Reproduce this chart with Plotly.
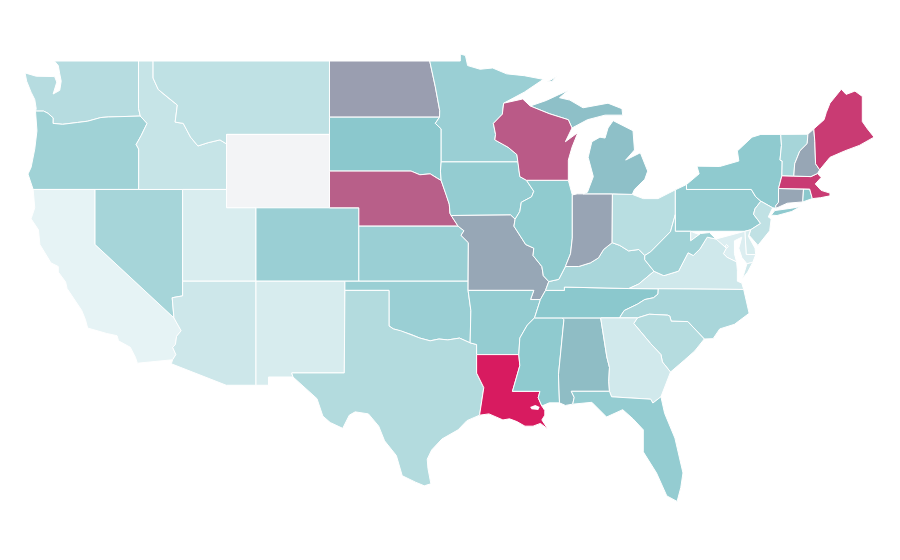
import plotly.graph_objects as go
from plotly.colors import sample_colorscale

# outlines are lon/lat, read off by hand (the geo trace needs topojson from a CDN, no network here)
columbia = [(-124.05,46.27),(-123.5,46.27),(-123.2,46.15),(-122.85,45.9),(-122.86,45.6),(-122.2,45.55),(-121.2,45.65),(-120.5,45.72),(-119.6,45.92),(-119.1,45.95),(-116.92,46.0)]
snake = [(-116.92,46.0),(-116.46,45.6),(-116.85,44.95),(-117.2,44.45),(-117.03,44.2),(-117.03,42.0)]
colorado_river = [(-114.63,35.0),(-114.14,34.3),(-114.45,34.0),(-114.53,33.55),(-114.72,33.4),(-114.5,33.0),(-114.72,32.72)]
id_mt = [(-116.05,49.0),(-116.05,48.07),(-115.7,47.45),(-115.1,47.04),(-114.4,46.6),(-114.55,45.67),(-114.0,45.6),(-113.5,44.85),(-113.0,44.37),(-112.3,44.55),(-111.5,44.7),(-111.05,44.48)]
sd_ne = [(-104.05,43.0),(-98.5,43.0),(-97.9,42.8),(-97.2,42.85),(-96.7,42.6),(-96.45,42.49)]
mn_dakota = [(-97.23,49.0),(-96.85,47.6),(-96.55,46.3),(-96.56,45.94)]
sd_mn_ia = [(-96.56,45.94),(-96.85,45.6),(-96.45,45.3),(-96.45,43.5),(-96.5,43.0),(-96.45,42.49)]
missouri_ne = [(-96.45,42.49),(-96.1,41.7),(-95.9,41.2),(-95.85,40.7),(-95.77,40.58),(-95.3,40.0)]
ks_mo = [(-95.3,40.0),(-94.9,39.75),(-95.1,39.5),(-94.6,39.1),(-94.62,37.0)]
red_river = [(-94.48,33.64),(-95.2,33.9),(-96.0,33.8),(-96.6,33.85),(-97.2,33.75),(-97.9,33.9),(-98.5,34.1),(-99.2,34.3),(-99.7,34.4),(-100.0,34.56)]
upper_miss = [(-92.2,46.7),(-92.29,46.1),(-92.9,45.6),(-92.75,45.0),(-92.8,44.7),(-91.9,44.3),(-91.3,43.9),(-91.22,43.5),(-91.1,42.7),(-90.65,42.5)]
ia_il = [(-90.65,42.5),(-90.15,41.9),(-90.3,41.6),(-91.0,41.3),(-91.1,40.8),(-91.42,40.38)]
mo_il = [(-91.42,40.38),(-91.5,40.0),(-90.7,39.0),(-90.15,38.8),(-90.2,38.4),(-89.6,37.8),(-89.5,37.3),(-89.13,36.98)]
mo_tn = [(-89.13,36.98),(-89.35,36.5),(-89.7,36.0)]
ar_east = [(-89.7,36.0),(-90.1,35.0),(-90.6,34.6),(-91.1,33.9),(-91.17,33.0)]
ms_la = [(-91.17,33.0),(-91.1,32.4),(-91.6,31.0),(-89.73,31.0),(-89.85,30.65),(-89.6,30.2)]
tx_la = [(-94.04,33.0),(-94.04,31.99),(-93.55,31.2),(-93.7,30.5),(-93.84,29.7)]
ohio_il = [(-89.13,36.98),(-88.45,37.1),(-88.0,37.8)]
ohio_in = [(-88.0,37.8),(-87.1,37.8),(-86.3,38.0),(-85.75,38.27),(-85.4,38.73),(-84.82,39.1)]
ohio_oh = [(-84.82,39.1),(-84.3,38.95),(-83.7,38.65),(-83.0,38.73),(-82.6,38.4)]
ohio_wv = [(-82.6,38.4),(-82.2,38.6),(-81.7,39.0),(-80.85,39.7),(-80.52,40.64)]
ky_va_wv = [(-83.68,36.6),(-83.0,36.85),(-81.97,37.54)]
ky_wv = [(-81.97,37.54),(-82.6,38.17),(-82.6,38.4)]
tn_nc = [(-81.68,36.59),(-81.7,36.3),(-82.0,36.1),(-82.6,36.0),(-83.1,35.75),(-84.0,35.4),(-84.32,35.0)]
md_wv = [(-79.48,39.72),(-79.48,39.2),(-78.8,39.6),(-78.2,39.65),(-77.75,39.3)]
va_wv = [(-77.75,39.3),(-78.35,39.4),(-78.85,38.75),(-79.3,38.4),(-79.65,38.55),(-80.3,37.55),(-81.3,37.3),(-81.97,37.54)]
potomac = [(-77.75,39.3),(-77.5,39.1),(-77.05,38.8),(-77.25,38.5),(-77.0,38.3),(-76.35,38.05)]
nc_sc = [(-78.55,33.85),(-79.67,34.8),(-80.8,34.82),(-80.9,35.1),(-81.05,35.15),(-82.3,35.2),(-83.1,35.0)]
savannah = [(-83.1,35.0),(-83.35,34.7),(-82.2,33.6),(-81.5,33.0),(-81.4,32.6),(-80.85,32.05)]
ga_fl = [(-85.0,31.0),(-84.86,30.7),(-82.2,30.57),(-82.05,30.36),(-81.5,30.7)]
al_ga = [(-85.6,35.0),(-85.18,32.87),(-85.0,32.3),(-85.05,31.55),(-85.0,31.0)]
al_ms = [(-88.2,35.0),(-88.1,34.9),(-88.47,31.9),(-88.4,30.37)]
wi_up = [(-90.4,46.55),(-89.1,46.13),(-87.8,45.8),(-87.55,45.35)]
ny_pa_nj = [(-73.9,41.0),(-74.7,41.36),(-75.05,41.6),(-75.35,42.0)]
pa_nj = [(-74.7,41.36),(-75.1,40.95),(-75.2,40.65),(-74.72,40.15),(-75.4,39.8)]
ny_vt = [(-73.35,45.0),(-73.3,44.4),(-73.4,43.6),(-73.25,43.55),(-73.27,42.75)]
ny_ct = [(-73.5,42.05),(-73.5,41.3),(-73.7,41.1),(-73.65,40.98)]
vt_nh = [(-71.5,45.01),(-71.55,44.5),(-72.05,44.1),(-72.4,43.4),(-72.46,42.73)]
nh_me = [(-71.1,45.3),(-71.03,44.6),(-70.98,43.4),(-70.7,43.07)]

wa = [(-122.76,49.0),(-117.04,49.0),(-117.04,46.42),(-116.92,46.0)] + columbia[::-1] + [(-124.0,46.4),(-124.1,46.9),(-124.35,47.3),(-124.65,47.9),(-124.76,48.35),(-124.0,48.17),(-123.2,48.15),(-122.75,48.15),(-122.6,47.85),(-122.85,47.2),(-122.4,47.4),(-122.3,47.9),(-122.4,48.3),(-122.5,48.75)]
or_ = columbia + snake + [(-124.21,42.0),(-124.56,42.84),(-124.35,43.2),(-124.1,44.2),(-123.95,45.2)]
ca = [(-124.21,42.0),(-120.0,42.0),(-120.0,39.0)] + colorado_river + [(-117.12,32.53),(-117.25,32.85),(-117.6,33.4),(-118.4,33.75),(-118.5,34.03),(-119.2,34.15),(-120.5,34.45),(-120.65,34.9),(-120.9,35.4),(-121.9,36.6),(-122.0,36.96),(-122.5,37.5),(-122.5,37.8),(-123.0,38.0),(-123.75,39.0),(-123.85,39.8),(-124.35,40.4),(-124.1,41.0)]
nv = [(-120.0,42.0),(-114.04,42.0),(-114.04,36.2),(-114.75,36.1),(-114.63,35.0),(-120.0,39.0)]
id_ = [(-117.04,49.0)] + id_mt + [(-111.05,42.0)] + snake[::-1] + [(-117.04,46.42)]
mt = id_mt + [(-111.05,45.0),(-104.05,45.0),(-104.05,49.0)]
wy = [(-111.05,45.0),(-104.05,45.0),(-104.05,41.0),(-111.05,41.0)]
ut = [(-114.04,42.0),(-111.05,42.0),(-111.05,41.0),(-109.05,41.0),(-109.05,37.0),(-114.04,37.0)]
co = [(-109.05,41.0),(-102.05,41.0),(-102.05,37.0),(-109.05,37.0)]
az = [(-114.04,37.0),(-109.05,37.0),(-109.05,31.33),(-111.07,31.33),(-114.81,32.5)] + colorado_river[::-1] + [(-114.75,36.1),(-114.04,36.2)]
nm = [(-109.05,37.0),(-103.0,37.0),(-103.04,32.0),(-106.62,32.0),(-106.53,31.78),(-108.2,31.78),(-108.2,31.33),(-109.05,31.33)]
nd = [(-104.05,49.0)] + mn_dakota + [(-104.05,45.94)]
sd = [(-104.05,45.94)] + sd_mn_ia + sd_ne[::-1]
ne = sd_ne + missouri_ne + [(-102.05,40.0),(-102.05,41.0),(-104.05,41.0)]
ks = [(-102.05,40.0)] + ks_mo + [(-102.05,37.0)]
ok = [(-103.0,37.0),(-94.62,37.0),(-94.62,36.5),(-94.43,35.4)] + red_river + [(-100.0,36.5),(-103.0,36.5)]
tx = [(-103.0,36.5),(-100.0,36.5)] + red_river[::-1] + [(-94.04,33.55)] + tx_la + [(-94.7,29.4),(-95.3,28.9),(-96.4,28.4),(-97.1,27.8),(-97.4,27.3),(-97.35,26.8),(-97.15,25.96),(-97.6,25.85),(-98.2,26.05),(-99.1,26.4),(-99.5,27.5),(-100.3,28.3),(-100.7,29.1),(-101.4,29.77),(-102.3,29.88),(-102.7,29.7),(-103.15,28.98),(-104.0,29.3),(-104.5,29.65),(-104.9,30.6),(-106.53,31.78),(-106.62,32.0),(-103.04,32.0)]
mn = [(-97.23,49.0),(-95.15,49.0),(-95.15,49.38),(-94.8,49.3),(-94.65,48.75),(-93.8,48.55),(-92.95,48.62),(-92.0,48.3),(-90.8,48.2),(-89.5,48.0),(-90.8,47.3)] + upper_miss[:8] + [(-96.45,43.5),(-96.45,45.3),(-96.85,45.6)] + mn_dakota[::-1]
ia = [(-96.45,43.5),(-91.22,43.5),(-91.1,42.7)] + ia_il + [(-91.73,40.61),(-95.77,40.58),(-95.85,40.7),(-95.9,41.2),(-96.1,41.7),(-96.45,42.49),(-96.5,43.0)]
mo = [(-95.77,40.58),(-91.73,40.61)] + mo_il + mo_tn + [(-90.37,36.0),(-90.15,36.5),(-94.62,36.5)] + ks_mo[::-1]
ar = [(-94.62,36.5),(-90.15,36.5),(-90.37,36.0)] + ar_east + [(-94.04,33.0),(-94.04,33.55),(-94.48,33.64),(-94.43,35.4)]
la = [(-94.04,33.0)] + ms_la + [(-89.4,29.95),(-89.4,29.7),(-89.6,29.44),(-89.2,28.95),(-89.7,29.25),(-90.2,29.1),(-90.75,29.1),(-91.3,29.35),(-91.8,29.5),(-92.25,29.44),(-93.2,29.77)] + tx_la[::-1]
pontchartrain = [(-90.4,30.15),(-90.05,30.25),(-89.75,30.15),(-89.85,29.98),(-90.3,30.02)]
ms = [(-89.6,30.2),(-89.85,30.65),(-89.73,31.0),(-91.6,31.0),(-91.1,32.4),(-91.17,33.0),(-91.1,33.9),(-90.6,34.6),(-90.1,35.0)] + al_ms + [(-89.1,30.37)]
al = al_ms + [(-88.0,30.23),(-87.5,30.3),(-87.4,30.67),(-87.6,31.0)] + al_ga[::-1]
tn = [(-89.7,36.0),(-89.35,36.5),(-88.07,36.5),(-88.07,36.68),(-83.68,36.6)] + tn_nc + [(-85.6,35.0),(-88.2,35.0),(-90.1,35.0)]
ky = mo_tn[:2] + [(-88.07,36.5),(-88.07,36.68)] + ky_va_wv + ky_wv + ohio_oh[::-1] + ohio_in[::-1] + ohio_il[::-1]
il = [(-90.65,42.5),(-87.8,42.5),(-87.53,41.7),(-87.53,39.35),(-87.65,38.5)] + ohio_il[::-1] + mo_il[::-1] + ia_il[::-1]
in_ = [(-87.53,41.7),(-87.2,41.76),(-84.8,41.76)] + ohio_in[::-1] + [(-87.65,38.5),(-87.53,39.35)]
oh = [(-84.8,41.76),(-83.45,41.73),(-82.7,41.5),(-81.7,41.5),(-80.52,41.98)] + ohio_wv[::-1] + ohio_oh[::-1]
mi_lower = [(-86.8,41.76),(-86.5,41.85),(-86.1,42.7),(-86.45,43.75),(-86.2,44.6),(-85.65,44.85),(-85.3,44.8),(-85.1,45.35),(-84.75,45.75),(-83.4,45.2),(-83.3,44.15),(-83.9,43.6),(-82.9,44.0),(-82.4,43.0),(-82.6,42.55),(-83.3,42.0),(-83.45,41.73),(-84.8,41.76)]
mi_upper = wi_up + [(-87.2,45.5),(-86.5,45.8),(-85.3,46.05),(-84.1,46.05),(-84.15,46.4),(-85.1,46.7),(-86.8,46.45),(-87.7,46.87),(-88.4,47.0),(-87.8,47.4),(-88.5,47.15),(-89.3,46.85),(-90.2,46.6)]
isle_royale = [(-89.25,47.85),(-88.6,48.15),(-88.9,47.9)]
wi = [(-92.2,46.7),(-91.2,46.85),(-90.9,46.93)] + wi_up + [(-88.0,44.6),(-87.15,45.1),(-87.55,44.3),(-87.8,43.6),(-87.8,42.5)] + upper_miss[::-1]
pa = [(-80.52,41.98),(-79.76,42.27),(-79.76,42.0),(-75.35,42.0),(-75.05,41.6)] + pa_nj + [(-75.79,39.72),(-80.52,39.72),(-80.52,40.64)]
ny = [(-79.76,42.0),(-79.76,42.27),(-78.9,42.85),(-79.05,43.27),(-77.5,43.25),(-76.2,43.55),(-76.3,44.1),(-75.3,44.85),(-74.7,45.0)] + ny_vt + ny_ct + ny_pa_nj
long_island = [(-74.0,40.6),(-73.75,40.85),(-72.6,40.98),(-72.0,41.07),(-72.6,40.8),(-73.6,40.58)]
nj = [(-74.7,41.36),(-73.9,41.0),(-74.2,40.5),(-74.0,40.4),(-74.1,39.75),(-74.9,38.95),(-75.5,39.5),(-75.4,39.8),(-74.72,40.15),(-75.2,40.65),(-75.1,40.95)]
de = [(-75.79,39.72),(-75.4,39.8),(-75.55,39.45),(-75.1,38.8),(-75.05,38.45),(-75.7,38.46)]
md = md_wv[::-1] + [(-77.5,39.1),(-77.05,38.8),(-77.25,38.5),(-77.0,38.3),(-76.35,38.05),(-76.5,38.5),(-76.5,39.2),(-76.0,39.4),(-76.2,38.8),(-76.0,38.3),(-75.65,37.95),(-75.25,38.03),(-75.05,38.45),(-75.7,38.46),(-75.79,39.72)]
dc = [(-77.12,38.93),(-77.04,39.0),(-76.91,38.89),(-77.04,38.79)]
va = [(-83.68,36.6),(-81.68,36.59),(-75.87,36.55),(-76.0,36.9),(-76.3,37.0),(-76.3,37.6)] + potomac[::-1] + va_wv + [(-83.0,36.85)]
va_shore = [(-75.95,37.15),(-75.65,37.95),(-75.25,38.03),(-75.6,37.5)]
wv = [(-80.52,40.64),(-80.52,39.72)] + md_wv + va_wv[1:] + ky_wv[1:] + ohio_wv[1:]
nc = tn_nc + nc_sc[::-1] + [(-77.95,33.87),(-77.5,34.4),(-76.5,34.65),(-75.5,35.25),(-75.87,36.55)]
sc = nc_sc + savannah + [(-79.9,32.7),(-79.2,33.2)]
ga = [(-85.6,35.0),(-83.1,35.0)] + savannah[1:] + ga_fl[::-1] + al_ga[::-1]
fl = [(-87.6,31.0)] + ga_fl + [(-81.25,29.8),(-80.55,28.45),(-80.0,26.55),(-80.15,25.75),(-80.4,25.0),(-81.1,25.3),(-81.8,26.55),(-82.7,27.7),(-82.7,28.9),(-83.4,29.5),(-84.1,30.0),(-85.2,29.6),(-86.2,30.4),(-87.5,30.3),(-87.4,30.67)]
ct = [(-73.5,42.05),(-71.8,42.02),(-71.85,41.32),(-72.9,41.25),(-73.65,40.98),(-73.7,41.1),(-73.5,41.3)]
ri = [(-71.8,42.02),(-71.38,42.02),(-71.2,41.5),(-71.85,41.32)]
ma = [(-73.5,42.05),(-73.27,42.75),(-72.46,42.73),(-71.3,42.7),(-70.85,42.87),(-70.6,42.65),(-71.0,42.3),(-70.6,41.95),(-70.0,41.8),(-70.0,41.65),(-70.65,41.55),(-71.2,41.5),(-71.38,42.02),(-71.8,42.02)]
vt = ny_vt + [(-72.46,42.73)] + vt_nh[::-1]
nh = [(-71.5,45.01),(-71.1,45.3)] + nh_me[1:] + [(-70.85,42.87),(-71.3,42.7)] + vt_nh[::-1]
me = nh_me[::-1] + [(-71.1,45.3),(-70.4,45.8),(-70.25,46.2),(-70.0,46.7),(-69.23,47.46),(-68.9,47.18),(-68.3,47.36),(-67.8,47.07),(-67.8,45.7),(-67.45,45.3),(-67.0,44.85),(-68.0,44.4),(-69.0,44.1),(-70.0,43.75)]

state_names = ["WA","OR","CA","NV","ID","MT","WY","UT","CO","AZ","NM","ND","SD","NE","KS","OK","TX","MN","IA","MO","AR","LA","MS","AL","TN","KY","IL","IN","OH","MI","WI","PA","NY","NJ","DE","MD","DC","VA","WV","NC","SC","GA","FL","CT","RI","MA","VT","NH","ME"]
state_parts = [[wa],[or_],[ca],[nv],[id_],[mt],[wy],[ut],[co],[az],[nm],[nd],[sd],[ne],[ks],[ok],[tx],[mn],[ia],[mo],[ar],[la],[ms],[al],[tn],[ky],[il],[in_],[oh],[mi_lower,mi_upper,isle_royale],[wi],[pa],[ny,long_island],[nj],[de],[md],[dc],[va,va_shore],[wv],[nc],[sc],[ga],[fl],[ct],[ri],[ma],[vt],[nh],[me]]
state_values = [15.7,21.5,3,20,11.4,13.3,0,6.4,23,9.7,7,38,27,68,23,23,16.5,23,24.5,35.7,24.6,100,26,30,27,19,25.6,36.5,15,29,70,24.6,26,13,7,5.6,5,9,21.5,19,16,8.5,24.6,36,27,85,20,36,85]

scale = [[0, "#f3f4f6"], [0.03, "#e6f3f5"], [0.27, "#8bc8cd"], [0.38, "#9a9eb0"], [1, "#d81b60"]]

fig = go.Figure()
for name, parts, val in zip(state_names, state_parts, state_values):
    xs, ys = [], []
    for part in parts:
        xs += [p[0] for p in part] + [part[0][0], None]
        ys += [p[1] for p in part] + [part[0][1], None]
    color = sample_colorscale(scale, val / 100)[0]
    fig.add_trace(go.Scatter(x=xs, y=ys, mode="lines", fill="toself", fillcolor=color,
                             line=dict(color="white", width=1), name=name, hoverinfo="name"))
# lake sits on top of Louisiana
fig.add_trace(go.Scatter(x=[p[0] for p in pontchartrain], y=[p[1] for p in pontchartrain], mode="lines",
                         fill="toself", fillcolor="white", line=dict(color="white", width=0), hoverinfo="skip"))

# page body has an 8px margin, so the plot is 884x544 and the ranges start 8px in
fig.update_xaxes(visible=False, range=[-125.92, -65.78])
fig.update_yaxes(visible=False, range=[22.243, 51.888])
fig.update_layout(width=884, height=544, margin=dict(l=0, r=0, t=0, b=0), showlegend=False,
                  paper_bgcolor="white", plot_bgcolor="white")
fig.write_html("out.html")
